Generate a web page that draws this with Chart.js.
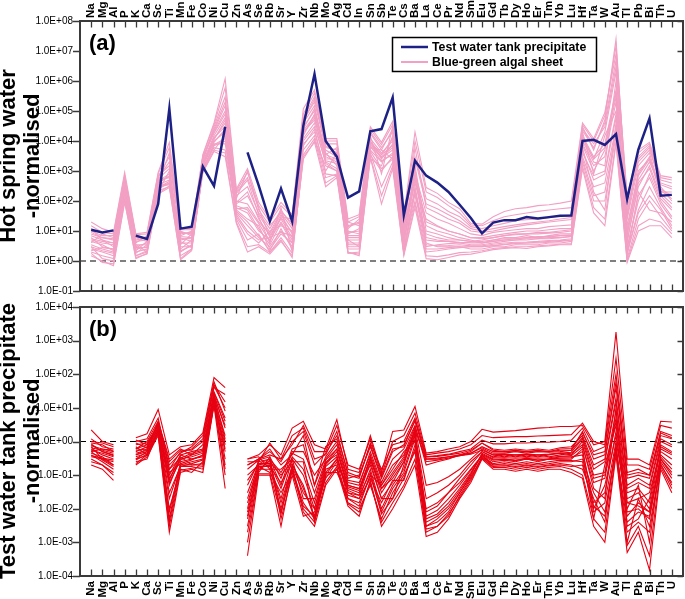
<!DOCTYPE html>
<html lang="en">
<head>
<meta charset="UTF-8">
<title>Hot spring water and test water tank precipitate normalised patterns</title>
<script src="https://cdn.jsdelivr.net/npm/chart.js"></script>
<style>
  body { margin: 0; background: #fff; }
  #wrap { position: relative; width: 685px; height: 599px; overflow: hidden; }
  canvas { position: absolute; left: 0; }
</style>
</head>
<body>
<div id="wrap">
  <canvas id="chartA" width="685" height="300" style="top:0;width:685px;height:300px"></canvas>
  <canvas id="chartB" width="685" height="304" style="top:295px;width:685px;height:304px"></canvas>
</div>

<script>
// element order on the x axis
const elements = ['Na','Mg','Al','P','K','Ca','Sc','Ti','Mn','Fe','Co','Ni','Cu','Zn','As','Se','Rb','Sr','Y','Zr',
  'Nb','Mo','Ag','Cd','In','Sn','Sb','Te','Cs','Ba','La','Ce','Pr','Nd','Sm','Eu','Gd','Tb','Dy','Ho',
  'Er','Tm','Yb','Lu','Hf','Ta','W','Au','Tl','Pb','Bi','Th','U'];

const seriesNames = ['Test water tank precipitate', 'Blue-green algal sheet'];

// (a) test water tank precipitate, hot spring water normalised (P and Zn missing)
const tankPrecipitate = [11, 9, 10.5, null, 7, 5.4, 80, 1.2e5, 12, 14,
  1400, 320, 3e4, null, 4200, 330, 21, 260, 21, 3.2e4,
  1.7e6, 1e4, 3000, 130, 210, 2.1e4, 2.5e4, 2.8e5, 34, 2200,
  700, 410, 200, 75, 27, 8.3, 19, 23, 23, 29,
  26, 29, 32, 33, 1e4, 1.1e4, 7400, 1.7e4, 115, 5200,
  5.7e4, 150, 160];

// (a) blue-green algal sheets, hot spring water normalised
const algalSheets = [
  [20, 12, 9, 900, 8, 9, 900, 9000, 12, 12,
   3500, 4e4, 1.2e6, 250, 1200, 90, 25, 90, 35, 1.2e5,
   5e5, 1.2e4, 1.2e4, 25, 35, 3e4, 9000, 4.5e4, 35, 2e4,
   280, 180, 90, 55, 18, 17, 30, 45, 55, 60,
   70, 75, 85, 100, 4e4, 1.2e4, 9e4, 8e6, 150, 5000,
   9000, 700, 600],
  [8, 6, 5, 400, 5, 6, 600, 2000, 8, 9,
   2500, 2.5e4, 2e5, 150, 300, 40, 12, 50, 15, 5e4,
   2e5, 6000, 5000, 15, 20, 2e4, 6000, 2e4, 20, 3000,
   120, 80, 45, 30, 14, 12, 15, 18, 22, 24,
   25, 28, 32, 35, 2.5e4, 8000, 3e4, 3e6, 60, 2000,
   5000, 400, 300],
  [5, 4, 3.5, 250, 3, 4, 450, 800, 5, 6,
   2000, 1.5e4, 6e4, 100, 80, 20, 8, 35, 8, 3e4,
   1e5, 5000, 3000, 9, 10, 1.2e4, 4000, 1e4, 12, 800,
   40, 25, 18, 12, 8, 7, 9, 10, 11, 12,
   12, 14, 15, 16, 1.5e4, 3000, 8000, 5e5, 15, 800,
   3000, 250, 150],
  [3.5, 2.5, 2, 200, 2.5, 3, 350, 500, 4, 4,
   1500, 1e4, 2e4, 60, 40, 10, 5, 20, 5, 2e4,
   5e4, 3000, 2000, 6, 6, 8000, 3000, 6000, 8, 400,
   15, 10, 8, 6, 5, 4, 5, 6, 6, 7,
   6, 7, 8, 8, 8000, 1500, 3000, 2e5, 5, 300,
   1500, 150, 60],
  [2.5, 2, 1.5, 150, 2, 2.5, 250, 400, 3, 3,
   1200, 7000, 1e4, 40, 15, 6, 3, 10, 3, 1e4,
   3e4, 2000, 1200, 4, 4, 5000, 2000, 4000, 5, 200,
   5, 4.5, 4.5, 4, 3.5, 3.5, 4, 4.5, 5, 5,
   5.5, 5.5, 6, 6.5, 5000, 500, 800, 6e4, 3, 100,
   800, 100, 30],
  [1.5, 1, 0.7, 90, 1.3, 1.7, 170, 280, 1.2, 2.5,
   900, 4500, 3000, 18, 2, 3, 1.7, 4.5, 1.5, 3000,
   9000, 300, 600, 2, 1.5, 2800, 80, 1200, 1.5, 60,
   1.2, 1.1, 1.3, 1.6, 1.7, 2, 2.4, 2.6, 2.8, 2.6,
   3, 3.2, 3.5, 3.5, 1200, 40, 15, 8000, 0.9, 10,
   15, 15, 6],
  [12, 5, 4, 600, 6, 4.5, 700, 1500, 2.5, 5,
   3000, 2e4, 1e5, 200, 600, 60, 6, 30, 25, 6e4,
   3e5, 8000, 8000, 10, 8, 1.5e4, 800, 3e4, 10, 6000,
   60, 40, 25, 18, 10, 9, 10, 12, 14, 16,
   18, 20, 22, 24, 3e4, 5000, 5e4, 2.5e7, 40, 3000,
   7000, 500, 400],
  [4, 8, 6, 300, 4, 7, 300, 350, 10, 7,
   1800, 1.2e4, 4e4, 30, 8, 4, 10, 15, 10, 1.5e4,
   8e4, 4000, 1500, 20, 15, 1e4, 2500, 8000, 4, 1200,
   3, 3.5, 3.8, 4, 4.2, 4.5, 5, 5.5, 5.5, 6,
   6.5, 6.5, 7, 7, 1e4, 2000, 1500, 1e6, 8, 500,
   2000, 300, 100],
  [6, 3, 2.5, 180, 3.5, 2, 500, 600, 6, 4.5,
   1000, 8000, 8000, 80, 150, 30, 4, 60, 2, 8000,
   2e4, 1000, 4000, 3, 3, 6000, 5000, 2500, 25, 150,
   8, 6, 5, 5, 4.5, 5, 6, 7, 8, 8,
   9, 9, 10, 11, 3000, 300, 400, 3e4, 2, 50,
   300, 60, 15],
  [2, 1.5, 1.2, 120, 1.8, 3.5, 200, 1000, 2, 3.5,
   1300, 6000, 5000, 50, 25, 15, 2.5, 8, 4, 5000,
   1.5e4, 600, 800, 2.5, 2.5, 4000, 300, 2000, 3, 100,
   2, 2.2, 2.5, 2.8, 3, 3, 3.2, 3.5, 3.8, 4,
   4, 4.2, 4.5, 5, 2000, 100, 100, 1.5e4, 1.2, 25,
   100, 30, 10],
  [10, 7, 7, 500, 7, 5, 400, 4000, 7, 10,
   2200, 3e4, 3e5, 120, 1000, 50, 15, 40, 12, 4e4,
   1.5e5, 2500, 2500, 12, 25, 2500, 1500, 1.5e4, 15, 500,
   25, 15, 10, 8, 6, 6, 7, 8, 9, 10,
   10, 11, 12, 12, 2e4, 800, 1.5e4, 1e5, 25, 1500,
   4000, 200, 200],
  [3, 1.2, 1, 220, 1.5, 2.2, 280, 450, 1.5, 2.5,
   1100, 5000, 1.5e4, 25, 5, 8, 2, 6, 1.8, 2500,
   1e4, 1500, 1000, 1.8, 2, 3500, 1000, 3000, 2, 300,
   4, 3, 3, 3, 2.5, 2.5, 3, 3, 3.5, 3.5,
   3.5, 4, 4, 4.5, 6000, 200, 50, 4e4, 1.5, 200,
   50, 40, 20],
  [7, 5, 3, 350, 3.5, 3.5, 550, 1200, 3.5, 8,
   2800, 1.8e4, 8e4, 90, 200, 25, 7, 25, 6, 2.5e4,
   1.2e5, 3500, 6000, 8, 12, 9000, 3500, 1.2e4, 6, 1500,
   10, 8, 6, 5, 4.5, 4, 4.5, 5, 5.5, 6,
   6, 6.5, 7, 7.5, 1.2e4, 2500, 2e4, 2e6, 10, 1000,
   2500, 180, 80],
  [4.5, 3.5, 2.2, 280, 2.2, 4.5, 380, 700, 6.5, 6,
   1600, 1.3e4, 3e4, 70, 50, 12, 3.5, 18, 4, 1.8e4,
   6e4, 2200, 1800, 5, 5, 7000, 2800, 5000, 3.5, 600,
   6, 5, 4.5, 4.2, 4, 4, 4.5, 5, 5, 5.5,
   5.5, 6, 6, 6.5, 7000, 1000, 5000, 3e5, 4, 400,
   1200, 120, 50],
  [3, 2.2, 1.8, 160, 2.8, 2.8, 320, 380, 2.2, 3.2,
   1400, 9000, 2.5e4, 45, 20, 7, 2.2, 12, 2.5, 1.2e4,
   4e4, 1800, 1000, 3.5, 3.5, 6500, 2200, 3500, 2.5, 250,
   3.5, 3.2, 3.3, 3.5, 3.2, 3.2, 3.6, 4, 4.2, 4.3,
   4.5, 4.8, 5, 5.5, 4000, 700, 1000, 8e4, 2.5, 150,
   600, 80, 25],
  [9, 6, 5.5, 450, 6, 6, 650, 3000, 9, 8,
   2400, 2.2e4, 1.5e5, 180, 500, 35, 9, 45, 18, 4.5e4,
   2.5e5, 7000, 4000, 14, 18, 1.8e4, 5000, 2.5e4, 18, 2500,
   80, 55, 35, 22, 12, 10, 12, 14, 16, 18,
   20, 22, 25, 28, 2.2e4, 6000, 4e4, 5e6, 30, 2500,
   6000, 350, 250],
  [2.2, 2.8, 2.5, 140, 1.5, 2, 220, 300, 4.5, 2.8,
   1000, 7500, 1.2e4, 35, 10, 5, 6, 9, 7, 7000,
   2.5e4, 800, 700, 5, 3, 4500, 1200, 2500, 1.8, 180,
   2.5, 2.5, 2.8, 3, 3, 3, 3.3, 3.6, 4, 4,
   4.2, 4.5, 4.8, 5, 2500, 150, 200, 2e4, 1.8, 40,
   150, 50, 12],
  [5.5, 4.5, 4, 210, 4.5, 5, 420, 650, 5.5, 5.5,
   1700, 1.1e4, 5e4, 55, 60, 18, 4.5, 28, 9, 2.2e4,
   7e4, 3500, 2500, 7, 7, 9500, 3500, 7000, 7, 700,
   20, 14, 10, 8, 6, 5.5, 6, 7, 7.5, 8,
   8, 8.5, 9, 10, 1.3e4, 2500, 6000, 4e5, 7, 700,
   2500, 220, 120],
  [1.8, 0.9, 0.8, 100, 1.2, 1.8, 180, 320, 1.1, 2.2,
   950, 5000, 4000, 20, 3, 3.5, 1.9, 5, 1.3, 3500,
   1.2e4, 400, 700, 1.9, 1.7, 3000, 150, 1500, 1.7, 80,
   1.5, 1.4, 1.6, 1.9, 2, 2.2, 2.6, 2.8, 3, 3,
   3.2, 3.4, 3.6, 3.8, 1500, 60, 25, 1e4, 1, 15,
   25, 20, 8],
  [15, 9, 8, 700, 7.5, 8, 800, 6000, 11, 11,
   3200, 3.5e4, 6e5, 220, 900, 70, 20, 70, 30, 8e4,
   4e5, 1e4, 1e4, 20, 30, 2.5e4, 7500, 3.5e4, 28, 1e4,
   200, 130, 70, 40, 16, 15, 22, 30, 35, 40,
   45, 50, 55, 60, 3.5e4, 1e4, 7e4, 1.5e7, 100, 4000,
   8000, 600, 500]
];

// (b) algal sheets, test water tank precipitate normalised (P and Zn missing)
const tankNormalised = [
  [2.2, 1, 0.8, null, 1.3, 1.7, 9, 0.4, 0.7, 0.8,
   1.8, 80, 40, null, 0.3, 0.4, 0.8, 0.4, 2.5, 4,
   0.8, 0.6, 4.5, 0.15, 0.12, 1.5, 0.12, 2, 2.2, 11,
   0.45, 0.5, 0.6, 0.7, 1, 2.3, 1.9, 2, 2.1, 2.3,
   2.5, 2.6, 2.8, 2.8, 3, 0.8, 1, 1800, 0.3, 0.3,
   0.2, 4, 3.8],
  [1.2, 0.7, 0.6, null, 1, 1.2, 5, 0.15, 0.5, 0.6,
   1.2, 50, 15, null, 0.2, 0.3, 0.4, 0.3, 1.5, 2.5,
   0.3, 0.4, 2, 0.1, 0.08, 0.9, 0.15, 0.8, 1, 5,
   0.35, 0.38, 0.42, 0.5, 0.6, 1.1, 0.85, 0.85, 0.9, 0.9,
   0.95, 0.95, 1, 1.1, 2.5, 0.5, 0.7, 100, 0.12, 0.15,
   0.1, 2, 1.5],
  [0.8, 0.5, 0.4, null, 0.8, 0.9, 3, 0.1, 0.4, 0.5,
   0.6, 30, 5, null, 0.05, 0.25, 0.3, 0.05, 0.5, 0.5,
   0.1, 0.3, 0.8, 0.06, 0.05, 0.5, 0.06, 0.3, 0.6, 3,
   0.2, 0.25, 0.3, 0.4, 0.5, 0.9, 0.6, 0.55, 0.6, 0.55,
   0.6, 0.55, 0.65, 0.7, 1.5, 0.2, 0.3, 20, 0.05, 0.08,
   0.05, 1.2, 0.8],
  [0.6, 0.4, 0.3, null, 0.5, 0.7, 2.5, 0.08, 0.3, 0.35,
   0.45, 20, 1.5, null, 0.02, 0.2, 0.2, 0.02, 0.3, 0.1,
   0.01, 0.2, 0.5, 0.04, 0.03, 0.3, 0.03, 0.1, 0.3, 2,
   0.008, 0.012, 0.03, 0.08, 0.2, 0.5, 0.35, 0.4, 0.35, 0.4,
   0.35, 0.4, 0.45, 0.4, 1, 0.08, 0.1, 5, 0.02, 0.03,
   0.01, 0.6, 0.4],
  [0.4, 0.25, 0.15, null, 0.3, 0.5, 2, 0.02, 0.2, 0.25,
   0.3, 15, 0.5, null, 0.003, 0.15, 0.15, 0.01, 0.2, 0.05,
   0.005, 0.1, 0.3, 0.03, 0.02, 0.15, 0.01, 0.05, 0.15, 1.5,
   0.005, 0.007, 0.015, 0.04, 0.12, 0.4, 0.25, 0.28, 0.25, 0.3,
   0.25, 0.3, 0.3, 0.3, 0.6, 0.01, 0.05, 1.5, 0.008, 0.01,
   0.005, 0.4, 0.2],
  [0.2, 0.15, 0.07, null, 0.2, 0.35, 1.5, 0.002, 0.12, 0.15,
   0.12, 12, 0.04, null, 0.0004, 0.1, 0.1, 0.003, 0.15, 0.008,
   0.003, 0.05, 0.15, 0.012, 0.006, 0.07, 0.003, 0.01, 0.04, 0.2,
   0.0015, 0.002, 0.005, 0.02, 0.06, 0.3, 0.15, 0.15, 0.13, 0.15,
   0.13, 0.15, 0.15, 0.12, 0.08, 0.003, 0.001, 0.4, 0.0005, 0.002,
   0.00015, 0.15, 0.03],
  [1, 0.9, 0.7, null, 0.6, 1, 4, 0.3, 0.6, 0.4,
   0.8, 40, 25, null, 0.01, 0.3, 0.6, 0.2, 0.4, 1.5,
   0.05, 0.7, 1.2, 0.08, 0.1, 0.7, 0.08, 0.5, 0.8, 4,
   0.3, 0.3, 0.35, 0.4, 0.45, 0.7, 0.5, 0.5, 0.52, 0.5,
   0.52, 0.5, 0.55, 0.55, 2, 0.3, 0.4, 60, 0.08, 0.1,
   0.08, 1.5, 1.2],
  [0.5, 0.6, 0.5, null, 0.4, 0.6, 3.5, 0.005, 0.25, 0.3,
   0.35, 25, 2.5, null, 0.1, 0.2, 0.25, 0.1, 0.25, 0.25,
   0.004, 0.15, 0.2, 0.05, 0.04, 0.2, 0.02, 0.02, 0.2, 2.5,
   0.05, 0.06, 0.09, 0.15, 0.3, 0.6, 0.4, 0.35, 0.4, 0.35,
   0.4, 0.35, 0.4, 0.45, 0.8, 0.04, 0.02, 10, 0.003, 0.005,
   0.02, 0.8, 0.5],
  [0.7, 0.3, 0.2, null, 0.7, 0.4, 2.2, 0.05, 0.35, 0.2,
   0.2, 18, 0.3, null, 0.3, 0.35, 0.15, 0.15, 0.3, 0.02,
   0.02, 0.25, 0.4, 0.02, 0.015, 0.1, 0.05, 0.15, 0.5, 1,
   0.003, 0.004, 0.008, 0.03, 0.1, 0.45, 0.3, 0.3, 0.28, 0.3,
   0.28, 0.3, 0.35, 0.35, 0.4, 0.005, 0.2, 3, 0.01, 0.05,
   0.001, 0.3, 0.1],
  [0.3, 0.2, 0.1, null, 0.25, 0.3, 2, 0.01, 0.15, 0.12,
   0.25, 14, 0.1, null, 0.001, 0.12, 0.35, 0.005, 0.1, 0.006,
   0.008, 0.08, 0.25, 0.015, 0.01, 0.05, 0.005, 0.03, 0.1, 0.5,
   0.002, 0.003, 0.006, 0.025, 0.08, 0.35, 0.2, 0.2, 0.18, 0.2,
   0.18, 0.2, 0.22, 0.2, 0.15, 0.02, 0.004, 0.8, 0.001, 0.02,
   0.003, 0.2, 0.06],
  [0.9, 0.8, 0.5, null, 1.1, 0.8, 3, 0.2, 0.45, 0.7,
   1.5, 60, 8, null, 0.25, 0.25, 0.9, 0.3, 0.8, 3,
   0.5, 0.5, 3, 0.2, 0.15, 1.2, 0.1, 1, 1.5, 7,
   0.4, 0.45, 0.5, 0.6, 0.8, 1.5, 1.3, 1.35, 1.4, 1.4,
   1.45, 1.5, 1.55, 1.6, 3.5, 1, 0.8, 300, 0.2, 0.2,
   0.15, 3, 2.5],
  [0.35, 0.3, 0.25, null, 0.35, 0.45, 1.8, 0.004, 0.18, 0.18,
   0.15, 13, 0.8, null, 0.006, 0.18, 0.12, 0.03, 0.12, 0.012,
   0.006, 0.12, 0.12, 0.025, 0.02, 0.08, 0.015, 0.07, 0.07, 0.8,
   0.01, 0.015, 0.03, 0.06, 0.15, 0.38, 0.2, 0.22, 0.2, 0.22,
   0.2, 0.22, 0.25, 0.25, 0.3, 0.03, 0.008, 0.6, 0.004, 0.008,
   0.006, 0.25, 0.08],
  [0.55, 0.45, 0.35, null, 0.45, 0.55, 2.8, 0.06, 0.28, 0.4,
   0.5, 22, 3, null, 0.03, 0.22, 0.22, 0.04, 0.35, 0.15,
   0.015, 0.22, 0.6, 0.045, 0.035, 0.35, 0.04, 0.12, 0.35, 2.2,
   0.3, 0.32, 0.35, 0.38, 0.42, 0.55, 0.4, 0.42, 0.4, 0.42,
   0.4, 0.42, 0.45, 0.48, 1.2, 0.1, 0.12, 8, 0.03, 0.04,
   0.015, 0.7, 0.45],
  [0.45, 0.35, 0.2, null, 0.4, 0.5, 2.4, 0.12, 0.22, 0.28,
   0.4, 17, 1, null, 0.008, 0.18, 0.18, 0.06, 0.22, 0.04,
   0.006, 0.18, 0.35, 0.035, 0.025, 0.25, 0.02, 0.06, 0.25, 1.8,
   0.004, 0.006, 0.012, 0.035, 0.11, 0.42, 0.28, 0.3, 0.27, 0.32,
   0.28, 0.3, 0.32, 0.33, 0.5, 0.015, 0.03, 2, 0.006, 0.015,
   0.008, 0.35, 0.15],
  [0.65, 0.55, 0.45, null, 0.6, 0.8, 3.2, 0.15, 0.32, 0.45,
   0.55, 28, 4, null, 0.15, 0.28, 0.35, 0.08, 0.6, 0.8,
   0.05, 0.35, 1, 0.07, 0.06, 0.4, 0.05, 0.2, 0.4, 2.8,
   0.25, 0.28, 0.32, 0.38, 0.45, 0.65, 0.45, 0.45, 0.5, 0.45,
   0.5, 0.48, 0.5, 0.55, 1.3, 0.15, 0.25, 15, 0.04, 0.06,
   0.04, 1, 0.7],
  [0.25, 0.2, 0.12, null, 0.22, 0.4, 1.7, 0.003, 0.14, 0.16,
   0.18, 13, 0.2, null, 0.002, 0.11, 0.11, 0.007, 0.18, 0.01,
   0.004, 0.06, 0.18, 0.014, 0.008, 0.06, 0.004, 0.015, 0.05, 0.3,
   0.0025, 0.003, 0.007, 0.022, 0.07, 0.32, 0.17, 0.17, 0.15, 0.17,
   0.15, 0.17, 0.18, 0.15, 0.1, 0.005, 0.002, 0.5, 0.0008, 0.003,
   0.0004, 0.18, 0.04],
  [0.75, 0.6, 0.55, null, 0.9, 0.65, 3.8, 0.25, 0.55, 0.55,
   1, 45, 10, null, 0.2, 0.3, 0.5, 0.25, 1, 2,
   0.2, 0.45, 1.5, 0.12, 0.09, 0.8, 0.09, 0.6, 0.7, 4.5,
   0.35, 0.36, 0.4, 0.45, 0.55, 0.9, 0.55, 0.5, 0.55, 0.5,
   0.55, 0.5, 0.6, 0.62, 1.8, 0.4, 0.5, 40, 0.1, 0.12,
   0.1, 1.8, 1.3],
  [0.5, 0.28, 0.18, null, 0.3, 0.38, 2.1, 0.03, 0.18, 0.22,
   0.28, 16, 0.6, null, 0.015, 0.16, 0.2, 0.015, 0.18, 0.03,
   0.01, 0.12, 0.3, 0.03, 0.025, 0.12, 0.008, 0.04, 0.12, 1.2,
   0.006, 0.009, 0.02, 0.05, 0.14, 0.38, 0.22, 0.25, 0.22, 0.25,
   0.22, 0.25, 0.28, 0.27, 0.25, 0.008, 0.015, 1, 0.015, 0.012,
   0.008, 0.3, 0.12],
  [0.38, 0.32, 0.28, null, 0.28, 0.42, 1.9, 0.008, 0.2, 0.2,
   0.22, 14, 0.15, null, 0.005, 0.14, 0.28, 0.008, 0.14, 0.015,
   0.005, 0.09, 0.15, 0.02, 0.012, 0.1, 0.007, 0.02, 0.08, 0.6,
   0.003, 0.005, 0.01, 0.03, 0.09, 0.33, 0.18, 0.19, 0.17, 0.19,
   0.17, 0.19, 0.2, 0.18, 0.2, 0.012, 0.006, 0.7, 0.002, 0.004,
   0.002, 0.22, 0.05],
  [0.85, 0.5, 0.38, null, 0.55, 0.6, 2.6, 0.07, 0.4, 0.3,
   0.38, 22, 1.2, null, 0.07, 0.22, 0.3, 0.12, 0.45, 0.3,
   0.03, 0.28, 0.6, 0.05, 0.04, 0.3, 0.04, 0.08, 0.25, 1.6,
   0.02, 0.03, 0.05, 0.1, 0.25, 0.5, 0.33, 0.33, 0.32, 0.33,
   0.32, 0.33, 0.36, 0.38, 0.7, 0.06, 0.08, 4, 0.015, 0.02,
   0.03, 0.5, 0.3]
];

const FONT = '"Liberation Sans", Arial, Helvetica, sans-serif';
const frameColor = '#3a3a3a';
const navy = '#1d2186';
const pink = '#f2a0c4';
const red = '#e60012';

Chart.defaults.font.family = FONT;
Chart.defaults.color = '#000';

// turn a row of values into {x, y} points on the linear element axis
function toPoints(row) {
  return row.map((v, i) => ({ x: i, y: v }));
}

// 1.0E+08 style labels, only on whole decades
function sciLabel(v) {
  const lg = Math.log10(v);
  const e = Math.round(lg);
  if (Math.abs(lg - e) > 1e-6) return '';
  return '1.0E' + (e < 0 ? '-' : '+') + String(Math.abs(e)).padStart(2, '0');
}

// rotated labels on a top axis get pushed one line height left, labelOffset puts them back
function xAxis(position, height, pad, shift) {
  return {
    type: 'linear', position: position, min: -1, max: elements.length,
    grid: { display: false, drawTicks: false }, border: { display: false },
    ticks: {
      stepSize: 1, autoSkip: false, maxTicksLimit: 200, minRotation: 90, maxRotation: 90, padding: pad,
      labelOffset: shift,
      color: '#000', font: { size: 11.5, weight: 'bold', lineHeight: 1.2 },
      callback: v => (Number.isInteger(v) && elements[v]) ? elements[v] : ''
    },
    afterFit: s => { s.height = height; s.paddingLeft = 0; s.paddingRight = 0; }
  };
}

function yAxis(min, max) {
  return {
    type: 'logarithmic', position: 'left', min: min, max: max,
    grid: { display: false, drawTicks: false }, border: { display: false },
    ticks: { autoSkip: false, padding: 7, color: '#000', font: { size: 10 }, callback: sciLabel },
    afterFit: s => { s.width = 80; s.paddingTop = 0; s.paddingBottom = 0; }
  };
}

// frame, inward ticks, dashed 1.0 line, titles, panel letter, legend
function decor(opts) {
  return {
    id: 'decor',
    beforeDatasetsDraw(chart) {
      const { ctx, chartArea: a, scales } = chart;
      const y1 = scales.y.getPixelForValue(1);
      ctx.save();
      ctx.strokeStyle = '#000';
      ctx.lineWidth = 1.2;
      ctx.setLineDash([6, 4]);
      ctx.beginPath();
      ctx.moveTo(a.left, y1);
      ctx.lineTo(a.right, y1);
      ctx.stroke();
      ctx.restore();
    },
    afterDraw(chart) {
      const { ctx, chartArea: a, scales } = chart;
      ctx.save();
      ctx.strokeStyle = frameColor;
      ctx.lineWidth = 1.3;
      ctx.beginPath();
      for (let i = 0; i < elements.length; i++) {
        const x = Math.round(scales.x.getPixelForValue(i)) + 0.5;
        ctx.moveTo(x, a.top); ctx.lineTo(x, a.top + 6.5);
        ctx.moveTo(x, a.bottom); ctx.lineTo(x, a.bottom - 6.5);
      }
      const e0 = Math.round(Math.log10(scales.y.min)), e1 = Math.round(Math.log10(scales.y.max));
      for (let e = e0; e <= e1; e++) {
        const y = Math.round(scales.y.getPixelForValue(Math.pow(10, e))) + 0.5;
        ctx.moveTo(a.left - 7, y); ctx.lineTo(a.left, y);
        ctx.moveTo(a.right, y); ctx.lineTo(a.right - 5.5, y);
      }
      ctx.stroke();
      ctx.lineWidth = 2;
      ctx.strokeRect(a.left, a.top, a.right - a.left, a.bottom - a.top);

      // panel letter
      ctx.fillStyle = '#000';
      ctx.font = 'bold 22px ' + FONT;
      ctx.textAlign = 'left';
      ctx.textBaseline = 'alphabetic';
      ctx.fillText(opts.letter, a.left + 9, a.top + 28.5);

      // axis title, two lines
      ctx.translate(0, opts.titleY);
      ctx.rotate(-Math.PI / 2);
      ctx.textAlign = 'center';
      ctx.fillText(opts.title[0], 0, 15);
      ctx.fillText(opts.title[1], 0, 39);
      ctx.restore();

      if (opts.legend) {
        ctx.save();
        const lx = 392, ly = 37, lw = 205, lh = 35;
        ctx.fillStyle = '#fff';
        ctx.fillRect(lx, ly, lw, lh);
        ctx.strokeStyle = '#000';
        ctx.lineWidth = 1.5;
        ctx.strokeRect(lx + 0.5, ly + 0.5, lw - 1, lh - 1);
        const rows = [[navy, 2.5, seriesNames[0]], [pink, 2, seriesNames[1]]];
        ctx.font = 'bold 12.3px ' + FONT;
        ctx.textBaseline = 'middle';
        rows.forEach((r, k) => {
          const y = ly + 10 + k * 15;
          ctx.strokeStyle = r[0];
          ctx.lineWidth = r[1];
          ctx.beginPath();
          ctx.moveTo(lx + 9, y); ctx.lineTo(lx + 36, y);
          ctx.stroke();
          ctx.fillStyle = '#000';
          ctx.fillText(r[2], lx + 40, y + 0.5);
        });
        ctx.restore();
      }
    }
  };
}

const common = {
  responsive: false,
  animation: false,
  devicePixelRatio: 1,
  plugins: { legend: { display: false }, tooltip: { enabled: false } },
  elements: { point: { radius: 0 }, line: { tension: 0 } }
};

// panel (a)
const dsA = algalSheets.map(row => ({
  label: seriesNames[1], data: toPoints(row), borderColor: pink, borderWidth: 1.1,
  xAxisID: 'x', yAxisID: 'y', order: 2, spanGaps: false
}));
dsA.push({
  label: seriesNames[0], data: toPoints(tankPrecipitate), borderColor: navy, borderWidth: 2.5,
  xAxisID: 'x', yAxisID: 'y', order: 1, spanGaps: false
});

new Chart(document.getElementById('chartA'), {
  type: 'line',
  data: { datasets: dsA },
  options: Object.assign({}, common, {
    layout: { padding: { top: 0, left: 0, right: 2, bottom: 9 } },
    scales: { x: xAxis('top', 21, 3, 13.8), y: yAxis(0.1, 1e8) }
  }),
  plugins: [decor({ letter: '(a)', title: ['Hot spring water', '-normalised'], titleY: 156, legend: true })]
});

// panel (b)
const dsB = tankNormalised.map(row => ({
  label: seriesNames[1], data: toPoints(row), borderColor: red, borderWidth: 1.1,
  xAxisID: 'x', yAxisID: 'y', spanGaps: false
}));

new Chart(document.getElementById('chartB'), {
  type: 'line',
  data: { datasets: dsB },
  options: Object.assign({}, common, {
    layout: { padding: { top: 12, left: 0, right: 2, bottom: 0 } },
    scales: { x: xAxis('bottom', 23, 5, 0), y: yAxis(1e-4, 1e4) }
  }),
  plugins: [decor({ letter: '(b)', title: ['Test water tank precipitate', '-normalised'], titleY: 146, legend: false })]
});
</script>
</body>
</html>
